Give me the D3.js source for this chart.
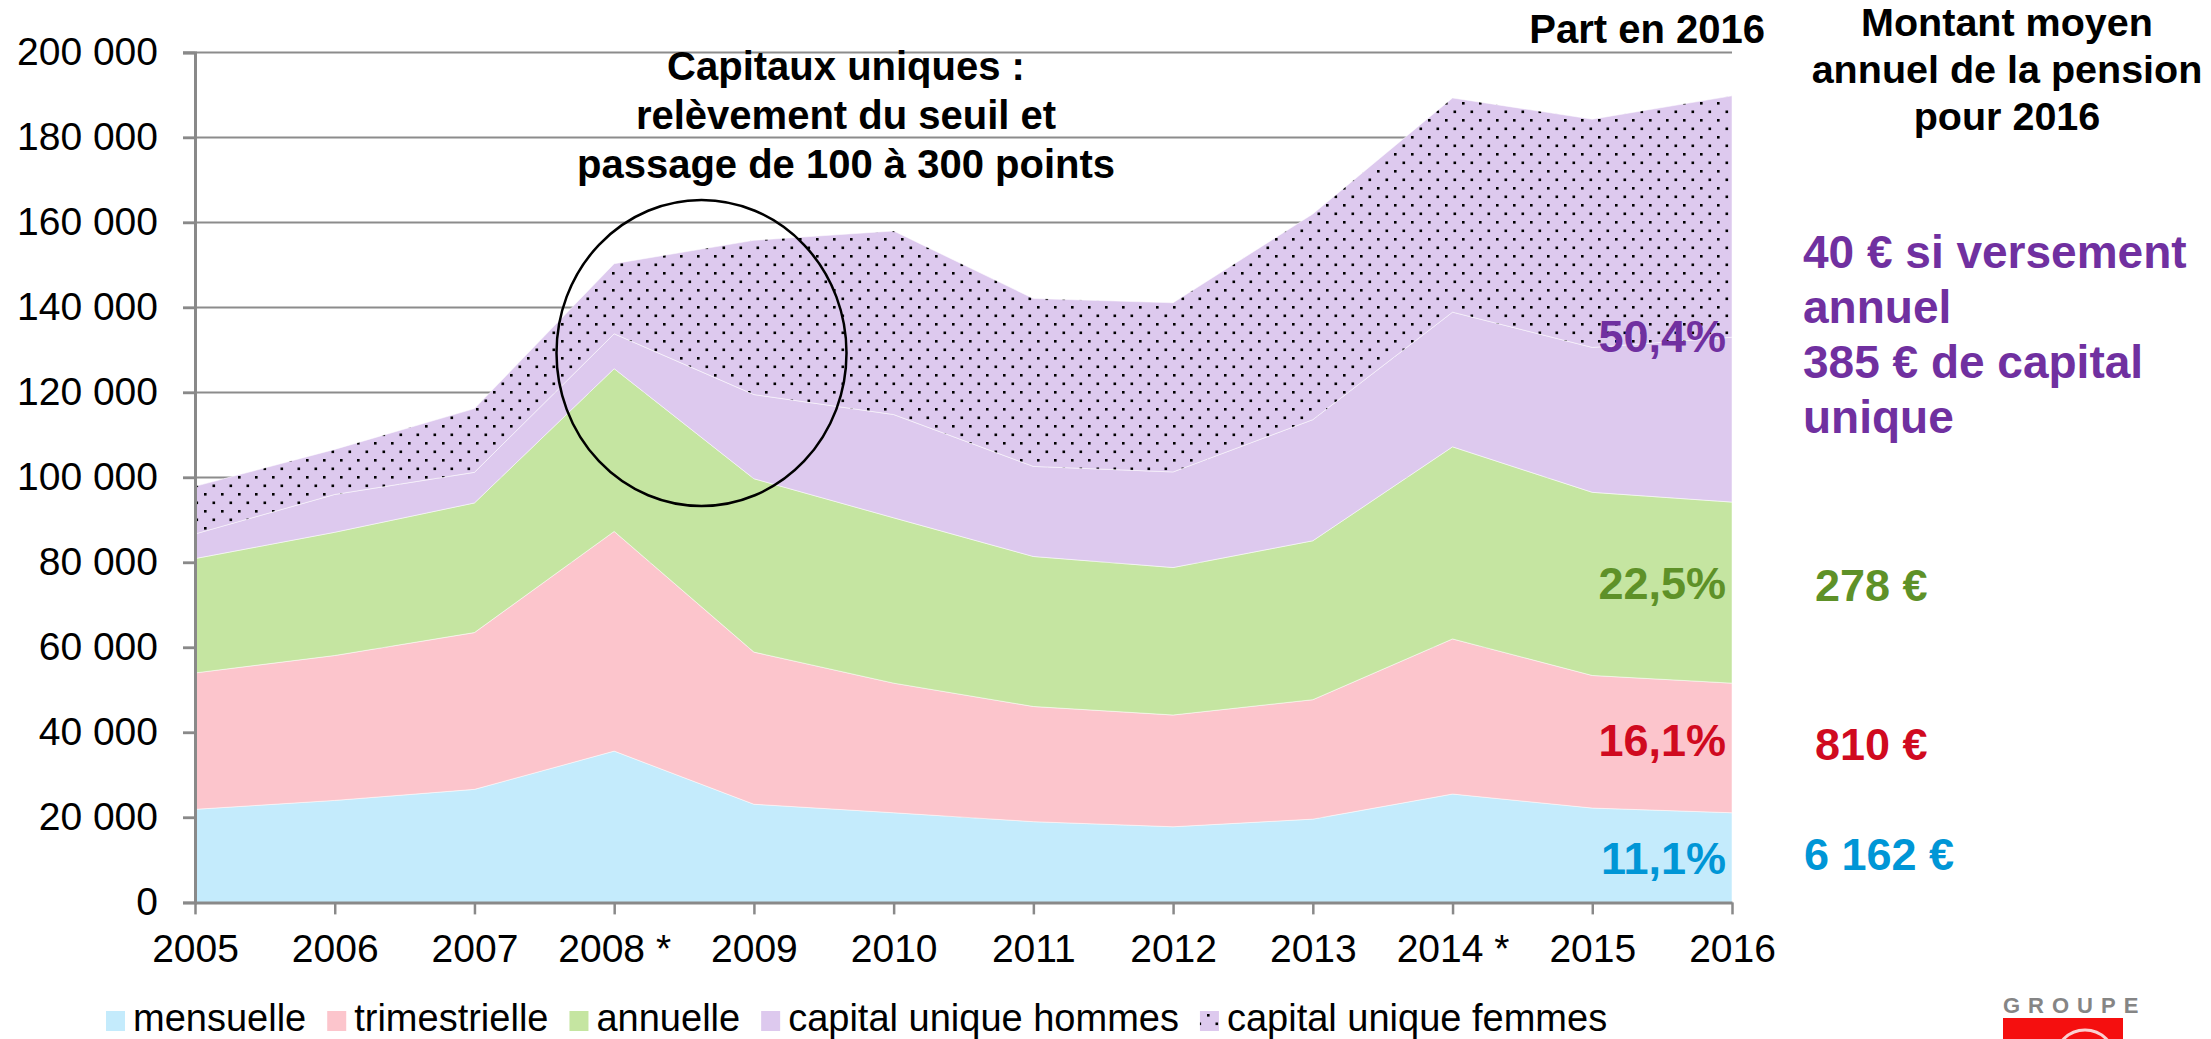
<!DOCTYPE html>
<html>
<head>
<meta charset="utf-8">
<script src="https://cdn.jsdelivr.net/npm/d3@7.9.0/dist/d3.min.js"></script>
<style>
  body { margin: 0; background: #fff; }
  svg { display: block; font-family: 'Liberation Sans', Arial, sans-serif; }
</style>
</head>
<body>
<svg id="chart" width="2211" height="1039"></svg>
<script>
// data (number of pensions per payment type)
const years = ['2005', '2006', '2007', '2008 *', '2009', '2010', '2011', '2012', '2013', '2014 *', '2015', '2016'];
const mensuelle = [21900, 24000, 26600, 35600, 23100, 21100, 19000, 17800, 19600, 25500, 22200, 21100];
const trimestrielle = [32100, 34100, 36900, 51700, 35800, 30500, 27100, 26300, 28100, 36500, 31200, 30500];
const annuelle = [26900, 29000, 30500, 38300, 40800, 38900, 35300, 34700, 37400, 45200, 43100, 42600];
const capitalHommes = [5800, 8900, 7200, 8200, 19800, 24300, 21200, 22500, 28500, 31700, 34100, 38800];
const capitalFemmes = [11200, 10600, 15000, 16500, 36300, 43200, 39500, 39800, 48400, 50400, 53700, 56800];

const yTicks = [0, 20000, 40000, 60000, 80000, 100000, 120000, 140000, 160000, 180000, 200000];

const seriesKeys = ['mensuelle', 'trimestrielle', 'annuelle', 'hommes', 'femmes'];
const seriesLabels = ['mensuelle', 'trimestrielle', 'annuelle', 'capital unique hommes', 'capital unique femmes'];
const shareLabels = ['11,1%', '16,1%', '22,5%', '50,4%'];
const amountLabels = ['6 162 €', '810 €', '278 €'];

const colors = {
  mensuelle: '#c4ebfc',
  trimestrielle: '#fcc5cc',
  annuelle: '#c5e5a1',
  hommes: '#ddc9ee',
  femmes: 'url(#dots)'
};
const lavender = '#ddc9ee';
const purple = '#7030a0';
const green = '#5e9128';
const red = '#d00a1f';
const blue = '#0096d6';

const table = years.map((year, i) => ({
  year,
  mensuelle: mensuelle[i],
  trimestrielle: trimestrielle[i],
  annuelle: annuelle[i],
  hommes: capitalHommes[i],
  femmes: capitalFemmes[i],
}));

const svg = d3.select('#chart');
const margin = { top: 52.5, bottom: 902.4, left: 195, right: 1732 };

const x = d3.scalePoint().domain(years).range([margin.left, margin.right]);
const y = d3.scaleLinear().domain([0, 200000]).range([margin.bottom, margin.top]);
const fmt = d3.formatLocale({ decimal: ',', thousands: ' ', grouping: [3], currency: ['', ' €'] }).format(',d');

// dotted pattern for "capital unique femmes"
const defs = svg.append('defs');
const pat = defs.append('pattern')
  .attr('id', 'dots')
  .attr('patternUnits', 'userSpaceOnUse')
  .attr('width', 17)
  .attr('height', 17);
pat.append('rect').attr('width', 17).attr('height', 17).attr('fill', lavender);
pat.append('rect').attr('x', 0).attr('y', 0).attr('width', 2.6).attr('height', 2.6).attr('fill', '#000');
pat.append('rect').attr('x', 8.5).attr('y', 8.5).attr('width', 2.6).attr('height', 2.6).attr('fill', '#000');

// gridlines
svg.append('g')
  .selectAll('line')
  .data(yTicks.filter((d) => d > 0))
  .join('line')
  .attr('x1', margin.left - 12)
  .attr('x2', margin.right)
  .attr('y1', (d) => y(d))
  .attr('y2', (d) => y(d))
  .attr('stroke', '#8c8c8c')
  .attr('stroke-width', 2);

// stacked areas
const stacked = d3.stack().keys(seriesKeys)(table);
const area = d3.area()
  .x((d) => x(d.data.year))
  .y0((d) => y(d[0]))
  .y1((d) => y(d[1]));

svg.append('g')
  .selectAll('path')
  .data(stacked)
  .join('path')
  .attr('d', area)
  .attr('fill', (d) => colors[d.key])
  .attr('stroke', 'rgba(255,255,255,0.5)')
  .attr('stroke-width', 1);

// y axis
const yAxis = svg.append('g')
  .attr('transform', `translate(${margin.left},0)`)
  .call(d3.axisLeft(y).tickValues(yTicks).tickFormat(fmt).tickSize(12).tickPadding(25));
yAxis.select('.domain').attr('stroke', '#898989').attr('stroke-width', 3);
yAxis.selectAll('.tick line').attr('stroke', '#898989').attr('stroke-width', 2.5);
yAxis.selectAll('.tick text')
  .attr('font-size', 39)
  .attr('font-family', "'Liberation Sans', Arial, sans-serif")
  .attr('fill', '#000');

// x axis
const xAxis = svg.append('g')
  .attr('transform', `translate(0,${margin.bottom})`)
  .call(d3.axisBottom(x).tickSize(12).tickPadding(20).tickSizeOuter(0));
xAxis.select('.domain').attr('stroke', '#898989').attr('stroke-width', 3);
xAxis.selectAll('.tick line').attr('stroke', '#898989').attr('stroke-width', 2.5);
xAxis.selectAll('.tick text')
  .attr('font-size', 39)
  .attr('font-family', "'Liberation Sans', Arial, sans-serif")
  .attr('fill', '#000');

// annotation circle + text
svg.append('ellipse')
  .attr('cx', 701.5).attr('cy', 353)
  .attr('rx', 145).attr('ry', 153)
  .attr('fill', 'none')
  .attr('stroke', '#000')
  .attr('stroke-width', 2.5);

const note = ['Capitaux uniques :', 'relèvement du seuil et', 'passage de 100 à 300 points'];
svg.append('g')
  .selectAll('text')
  .data(note)
  .join('text')
  .attr('x', 846)
  .attr('y', (d, i) => 80 + i * 49)
  .attr('text-anchor', 'middle')
  .attr('font-size', 40)
  .attr('font-weight', 700)
  .text((d) => d);

// right-hand headers
svg.append('text')
  .attr('x', 1765).attr('y', 43)
  .attr('text-anchor', 'end')
  .attr('font-size', 40)
  .attr('font-weight', 700)
  .text('Part en 2016');

const header = ['Montant moyen', 'annuel de la pension', 'pour 2016'];
svg.append('g')
  .selectAll('text')
  .data(header)
  .join('text')
  .attr('x', 2007)
  .attr('y', (d, i) => 36 + i * 47)
  .attr('text-anchor', 'middle')
  .attr('font-size', 39.5)
  .attr('font-weight', 700)
  .text((d) => d);

// share labels inside the last column
const shareY = [874, 756, 599, 352];
const shareColors = [blue, red, green, purple];
svg.append('g')
  .selectAll('text')
  .data(shareLabels)
  .join('text')
  .attr('x', 1726)
  .attr('y', (d, i) => shareY[i])
  .attr('text-anchor', 'end')
  .attr('font-size', 45)
  .attr('font-weight', 700)
  .attr('fill', (d, i) => shareColors[i])
  .text((d) => d);

// average amounts
const amountX = [1804, 1815, 1815];
const amountY = [870, 760, 601];
svg.append('g')
  .selectAll('text')
  .data(amountLabels)
  .join('text')
  .attr('x', (d, i) => amountX[i])
  .attr('y', (d, i) => amountY[i])
  .attr('font-size', 45)
  .attr('font-weight', 700)
  .attr('fill', (d, i) => shareColors[i])
  .text((d) => d);

const capitalNote = ['40 € si versement', 'annuel', '385 € de capital', 'unique'];
svg.append('g')
  .selectAll('text')
  .data(capitalNote)
  .join('text')
  .attr('x', 1803)
  .attr('y', (d, i) => 268 + i * 55)
  .attr('font-size', 46)
  .attr('font-weight', 700)
  .attr('fill', purple)
  .text((d) => d);

// legend
const legend = svg.append('g').attr('transform', 'translate(0,1031)');
let lx = 106;
seriesKeys.forEach((key, i) => {
  legend.append('rect')
    .attr('x', lx).attr('y', -20)
    .attr('width', 19).attr('height', 20)
    .attr('fill', colors[key]);
  const t = legend.append('text')
    .attr('x', lx + 27)
    .attr('y', 0)
    .attr('font-size', 38)
    .text(seriesLabels[i]);
  lx += 27 + t.node().getComputedTextLength() + 21;
});

// logo fragment bottom right
svg.append('text')
  .attr('x', 2003).attr('y', 1013)
  .attr('font-size', 22)
  .attr('font-weight', 700)
  .attr('letter-spacing', 8)
  .attr('fill', '#858585')
  .text('GROUPE');
svg.append('rect')
  .attr('x', 2003).attr('y', 1018)
  .attr('width', 120).attr('height', 21)
  .attr('fill', '#f50f0f');
svg.append('circle')
  .attr('cx', 2085).attr('cy', 1060)
  .attr('r', 30)
  .attr('fill', 'none')
  .attr('stroke', '#fbd0d0')
  .attr('stroke-width', 3);
</script>
</body>
</html>
